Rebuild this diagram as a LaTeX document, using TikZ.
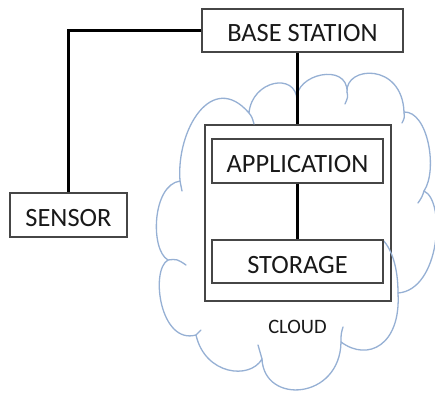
\documentclass[tikz,border=0pt]{standalone}
\usepackage{fontspec}
\setmainfont{Carlito}
\definecolor{cloudblue}{RGB}{150,176,212}
\definecolor{boxgray}{RGB}{70,70,70}
\definecolor{inkblack}{RGB}{25,25,25}

\begin{document}
\begin{tikzpicture}[x=1pt,y=-1pt,
  box/.style={draw=boxgray, line width=1.3pt, fill=white, inner sep=0pt,
    text=inkblack, font=\fontsize{26.4}{30}\selectfont,
    text height=23pt, text depth=0pt},
  frame/.style={draw=boxgray, line width=1.6pt, inner sep=0pt},
  link/.style={draw=black, line width=3.2pt, line join=miter},
  cloudline/.style={draw=cloudblue, line width=1.3pt, line cap=round, line join=round},
  caption/.style={inner sep=0pt, text=inkblack, font=\fontsize{20.5}{24}\selectfont,
    text height=13.2pt, text depth=0pt},
]
\useasboundingbox (0,0) rectangle (435,395);

% cloud outline, one Bezier puff between each pair of cusps
\draw[cloudline, fill=white]
  (297,100) .. controls (294,74) and (348,62) .. (347,92)
  .. controls (345,66) and (402,62) .. (404,112)
  .. controls (428,111) and (438,170) .. (424,191)
  .. controls (446,201) and (440,290) .. (398,293)
  .. controls (401,345) and (368,362) .. (341,342)
  .. controls (340,400) and (264,405) .. (262,359)
  .. controls (250,380) and (205,375) .. (196,335)
  .. controls (160,345) and (150,270) .. (168,260)
  .. controls (150,250) and (152,185) .. (180,181)
  .. controls (176,130) and (212,70) .. (249,113)
  .. controls (252,80) and (296,72) .. (297,100) -- cycle;

% container holding the cloud services
\node[frame, minimum width=186pt, minimum height=176pt] (cont) at (298,213) {};

% short inner curls of the cloud puffs
\draw[cloudline] (347,92) .. controls (348,97) .. (345,104);
\draw[cloudline] (404,112) .. controls (404.5,118) .. (402,123);
\draw[cloudline] (424,191) .. controls (422,197) .. (418,203);
\draw[cloudline] (398,293) .. controls (398,268) and (392,250) .. (383,240);
\draw[cloudline] (341,342) .. controls (341,334) .. (343,327);
\draw[cloudline] (262,359) .. controls (260,352) .. (258,345);
\draw[cloudline] (196,335) .. controls (198,333) .. (201,330);
\draw[cloudline] (168,260) .. controls (177,259) .. (186,265);
\draw[cloudline] (180,181) .. controls (181,186) .. (182,191);
\draw[cloudline] (249,113) .. controls (252,117) .. (254,124);

% boxes
\node[box, minimum width=201pt, minimum height=43pt] (bs) at (302.5,30.5) {BASE STATION};
\node[box, minimum width=117pt, minimum height=44pt] (sensor) at (68.5,215) {SENSOR};
\node[box, minimum width=171pt, minimum height=44pt] (app) at (297.5,161) {APPLICATION};
\node[box, minimum width=171pt, minimum height=43pt] (store) at (297.5,261.5) {STORAGE};
\node[caption] (cloudlbl) at (297.5,326.5) {CLOUD};

% connections
\draw[link] (bs.west) -| (sensor.north);
\draw[link] (bs.south -| app.north) -- (cont.north -| app.north);
\draw[link] (app.south) -- (store.north);
\end{tikzpicture}
\end{document}
